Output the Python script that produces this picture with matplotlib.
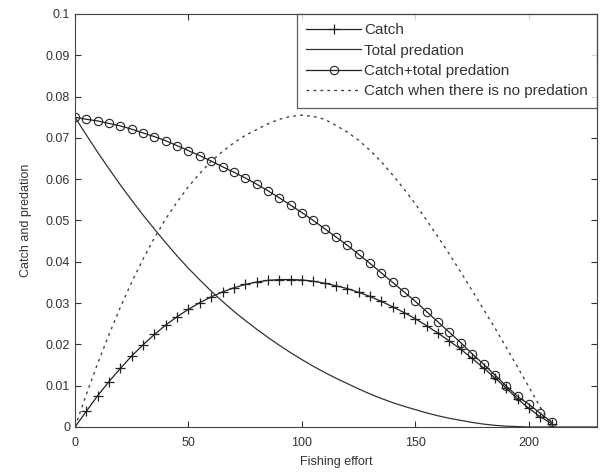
import matplotlib.pyplot as plt
import numpy as np

plt.rcParams['font.family'] = ['Liberation Sans', 'DejaVu Sans']

# fishing effort, one point every 5 units
effort = np.arange(0, 215, 5)

catch = [0.0, 0.0038, 0.0076, 0.011, 0.0142, 0.0172, 0.0199, 0.0224, 0.0247, 0.0267,
         0.0285, 0.0301, 0.0315, 0.0327, 0.0337, 0.0345, 0.0351, 0.0355, 0.0357, 0.0357,
         0.0356, 0.0353, 0.0348, 0.0342, 0.0335, 0.0326, 0.0316, 0.0304, 0.0291, 0.0277,
         0.0262, 0.0245, 0.0227, 0.0208, 0.0188, 0.0166, 0.0143, 0.0119, 0.0094, 0.0068,
         0.0045, 0.0025, 0.0008]

# predation continues at zero up to the end of the axis
effort_pred = np.arange(0, 235, 5)
predation = [0.075, 0.0707, 0.0665, 0.0625, 0.0586, 0.0549, 0.0513, 0.0479, 0.0446, 0.0414,
             0.0384, 0.0356, 0.0329, 0.0304, 0.028, 0.0258, 0.0237, 0.0217, 0.0198, 0.018,
             0.0163, 0.0147, 0.0132, 0.0118, 0.0105, 0.0092, 0.008, 0.0069, 0.0059, 0.005,
             0.0042, 0.0034, 0.0027, 0.0021, 0.0016, 0.0011, 0.0007, 0.0004, 0.0002, 0.0001,
             0.0, 0.0, 0.0, 0.0, 0.0, 0.0, 0.0]

catch_pred = [0.075, 0.0745, 0.0741, 0.0735, 0.0729, 0.0721, 0.0712, 0.0703, 0.0693, 0.0681,
              0.0669, 0.0657, 0.0644, 0.063, 0.0617, 0.0603, 0.0588, 0.0572, 0.0555, 0.0537,
              0.0519, 0.05, 0.048, 0.046, 0.044, 0.0418, 0.0396, 0.0373, 0.035, 0.0327,
              0.0304, 0.0279, 0.0254, 0.0229, 0.0204, 0.0177, 0.0152, 0.0126, 0.0099, 0.0074,
              0.0055, 0.0033, 0.0012]

no_pred = [0.0, 0.0079, 0.0154, 0.0224, 0.029, 0.0351, 0.0407, 0.0458, 0.0504, 0.0545,
           0.0582, 0.0614, 0.0643, 0.0667, 0.0688, 0.0706, 0.072, 0.0734, 0.0745, 0.0752,
           0.0755, 0.0752, 0.0745, 0.073, 0.0714, 0.0694, 0.067, 0.0642, 0.061, 0.0576,
           0.054, 0.05, 0.046, 0.0418, 0.0375, 0.033, 0.0285, 0.024, 0.0193, 0.0145,
           0.0097, 0.0048, 0.0005]

fig = plt.figure(figsize=(6.01, 4.74), dpi=100)
ax = fig.add_axes([0.1248, 0.0992, 0.8685, 0.8713])

ax.plot(effort, catch, color='#222222', lw=0.9, marker='+', ms=7, mew=0.9, label='Catch')
ax.plot(effort_pred, predation, color='#333333', lw=0.9, label='Total predation')
ax.plot(effort, catch_pred, color='#222222', lw=0.9, marker='o', ms=6, mew=0.8,
        mfc='none', label='Catch+total predation')
ax.plot(effort, no_pred, color='#444444', lw=1.0, ls=(0, (2, 3)),
        label='Catch when there is no predation')

ax.set_xlim(0, 230)
ax.set_ylim(0, 0.1)
ax.set_xticks([0, 50, 100, 150, 200])
ax.set_yticks(np.arange(0, 0.11, 0.01))
ax.set_yticklabels(['0', '0.01', '0.02', '0.03', '0.04', '0.05', '0.06', '0.07',
                    '0.08', '0.09', '0.1'])
ax.tick_params(direction='in', top=True, right=True, labelsize=9, colors='#333333',
               length=4, width=0.8)
ax.tick_params(axis='x', pad=7)
for s in ax.spines.values():
    s.set_color('#444444')
    s.set_linewidth(0.8)

ax.set_xlabel('Fishing effort', fontsize=9, color='#333333', labelpad=5)
ax.set_ylabel('Catch and predation', fontsize=9, color='#333333', labelpad=10)

leg = ax.legend(loc='upper right', fontsize=11, frameon=True, fancybox=False,
                edgecolor='#333333', borderaxespad=0, handlelength=3.6,
                labelspacing=0.42, borderpad=0.6, handletextpad=0.2)
leg.get_frame().set_linewidth(0.9)
for t in leg.get_texts():
    t.set_color('#333333')

fig.savefig('out.png', dpi=100)
